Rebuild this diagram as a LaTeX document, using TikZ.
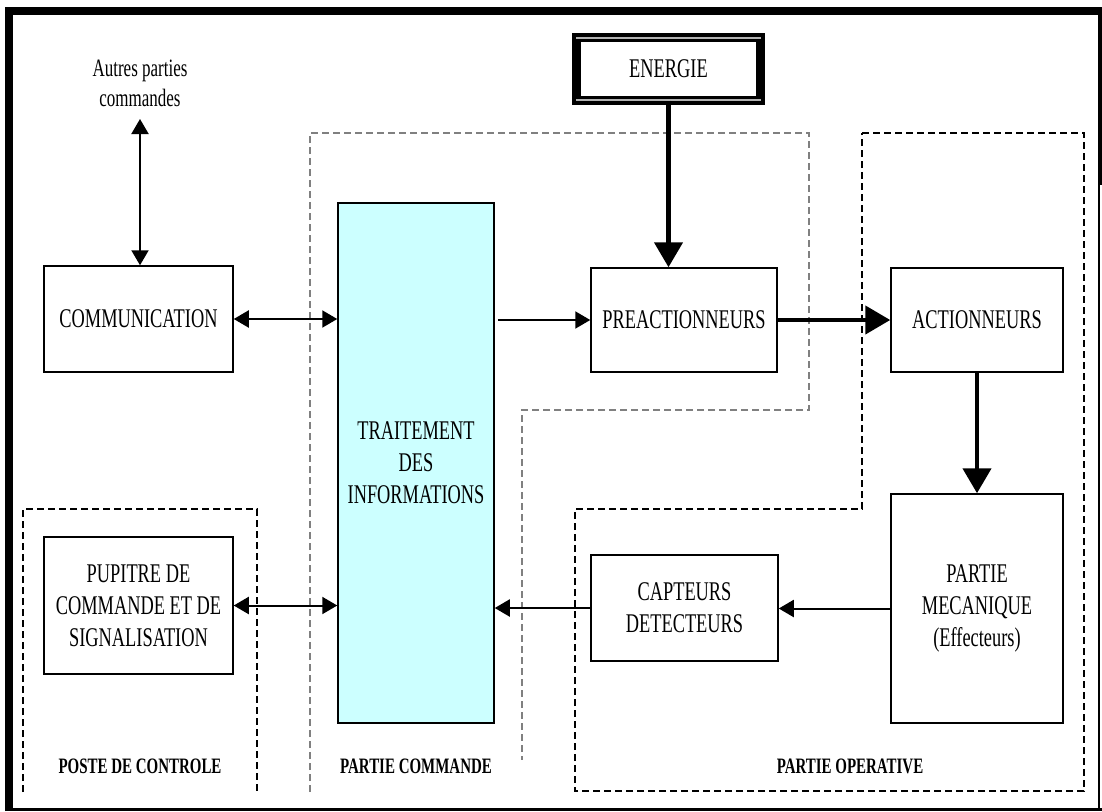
\documentclass[tikz,border=0pt]{standalone}
\usepackage{fontspec}
\setmainfont{Liberation Serif}[FakeStretch=0.68]
\usetikzlibrary{arrows.meta}
\definecolor{infocyan}{HTML}{CCFFFF}
\tikzset{
    bloc/.style={draw, line width=1.5pt, align=center, inner sep=0pt, font=\fontsize{27}{32}\selectfont},
    zone/.style={dashed, dash pattern=on 7pt off 4pt, line width=1.6pt},
    zonetitle/.style={font=\fontsize{22}{24}\selectfont\bfseries},
    fin/.style={line width=2pt, -{Triangle[length=15pt,width=17pt]}},
    dbl/.style={line width=2pt, {Triangle[length=15pt,width=17pt]}-{Triangle[length=15pt,width=17pt]}},
    gros/.style={line width=4.5pt, -{Triangle[length=25pt,width=28pt]}}
}
\begin{document}
\begin{tikzpicture}[x=1pt, y=-1pt]
    \useasboundingbox (0,0) rectangle (1102,811);
    \draw[line width=8pt] (9,811) -- (9,11) -- (1102,11);
    \draw[line width=4pt] (1100,11) -- (1100,185);
    \draw[line width=2pt] (1099,185) -- (1099,809.5);
    \draw[line width=3pt] (5,809.5) -- (1102,809.5);

    \draw[zone] (23,792) -- (23,509) -- (257,509) -- (257,792);
    \draw[zone, gray] (310,792) -- (310,133) -- (809,133) -- (809,410) -- (522,410) -- (522,760);
    \draw[zone] (862,133) -- (1084,133) -- (1084,791) -- (575,791) -- (575,509) -- (862,509) -- cycle;
    \node[zonetitle] (poste) at (140,766) {POSTE DE CONTROLE};
    \node[zonetitle] (pcom) at (416,766) {PARTIE COMMANDE};
    \node[zonetitle] (pop) at (850,766) {PARTIE OPERATIVE};

    \node[bloc, minimum width=189pt, minimum height=106pt] (comm) at (138.5,319) {COMMUNICATION};
    \node[bloc, minimum width=189pt, minimum height=137pt] (pupitre) at (138.5,605.5) {PUPITRE DE\\COMMANDE ET DE\\SIGNALISATION};
    \node[bloc, fill=infocyan, minimum width=156pt, minimum height=520pt] (traitement) at (416,463) {TRAITEMENT\\DES\\INFORMATIONS};
    \node[bloc, minimum width=186pt, minimum height=104pt] (preact) at (684,320) {PREACTIONNEURS};
    \node[bloc, minimum width=172pt, minimum height=104pt] (action) at (977,320) {ACTIONNEURS};
    \node[bloc, minimum width=172pt, minimum height=229pt] (meca) at (977,608.5) {PARTIE\\MECANIQUE\\(Effecteurs)};
    \node[bloc, minimum width=187pt, minimum height=106pt] (capteurs) at (684.5,608) {CAPTEURS\\DETECTEURS};
    \node[bloc, line width=9pt, minimum width=184pt, minimum height=63pt] (energie) at (668.5,69) {ENERGIE};
    \draw[gray!60, line width=2pt] ([xshift=4pt, yshift=-5pt]energie.north west) -- ([xshift=-4pt, yshift=-5pt]energie.north east);
    \draw[gray!60, line width=2pt] ([xshift=4pt, yshift=5pt]energie.south west) -- ([xshift=-4pt, yshift=5pt]energie.south east);
    \node[align=center, font=\fontsize{25}{30}\selectfont] (autres) at (140,83) {Autres parties\\commandes};

    \draw[dbl] (140,119) -- (comm.north -| 140,0);
    \draw[dbl] (comm.east) -- (comm.east -| traitement.west);
    \draw[dbl] (pupitre.east) -- (pupitre.east -| traitement.west);
    \draw[fin] ([xshift=3pt]preact.west -| traitement.east) -- (preact.west);
    \draw[fin] (capteurs.west) -- (capteurs.west -| traitement.east);
    \draw[fin] (meca.west) -- (meca.west -| capteurs.east);
    \draw[gros] ([yshift=4.5pt]energie.south) -- (energie.south |- preact.north);
    \draw[gros] (preact.east) -- (action.west);
    \draw[gros] (action.south) -- (meca.north);
\end{tikzpicture}
\end{document}
